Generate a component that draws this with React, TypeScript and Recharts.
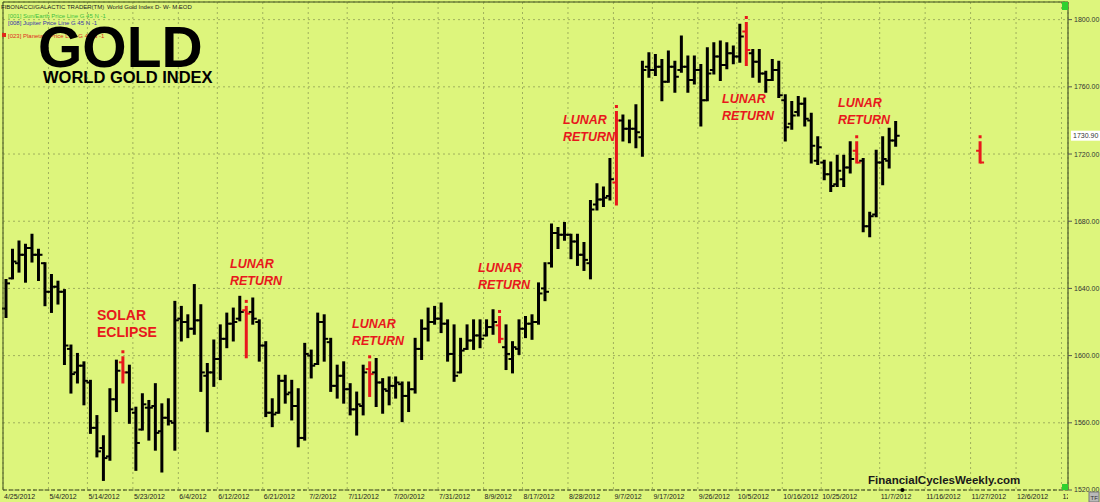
import React from "react";
import {
  ComposedChart,
  Bar,
  XAxis,
  YAxis,
  CartesianGrid,
  ReferenceLine,
  ReferenceDot,
} from "recharts";

// daily OHLC, world gold index, 4/25/2012 .. 11/9/2012 (session index = position in array)
const opens = [
  1628, 1646, 1655, 1660, 1664, 1660, 1655, 1638, 1641, 1638,
  1604, 1590, 1594, 1584, 1557, 1545, 1540, 1574, 1596, 1590,
  1566, 1556, 1569, 1570, 1555, 1563, 1560, 1622, 1620, 1616,
  1621, 1588, 1590, 1598, 1610, 1619, 1622, 1627, 1626, 1620,
  1606, 1566, 1566, 1585, 1578, 1570, 1551, 1600, 1595, 1620,
  1608, 1582, 1588, 1580, 1568, 1570, 1592, 1590, 1584, 1579,
  1582, 1583, 1576, 1580, 1604, 1616, 1620, 1622, 1619, 1601,
  1590, 1604, 1609, 1612, 1612, 1617, 1618, 1605, 1598, 1604,
  1616, 1619, 1620, 1640, 1655, 1673, 1672, 1672, 1668, 1660,
  1655, 1690, 1693, 1695, 1703, 1740, 1735, 1735, 1730, 1772,
  1770, 1772, 1763, 1772, 1770, 1772, 1764, 1770, 1752, 1770,
  1778, 1773, 1780, 1778, 1793, 1780, 1775, 1768, 1764, 1770,
  1752, 1738, 1745, 1750, 1740, 1716, 1715, 1708, 1702, 1705,
  1712, 1722, 1716, 1677, 1684, 1715, 1716, 1728,
];
const highs = [
  1645, 1663, 1668, 1666, 1672, 1663, 1655, 1648, 1644, 1639,
  1606, 1601, 1596, 1585, 1564, 1552, 1580, 1597, 1599, 1594,
  1569, 1577, 1573, 1583, 1571, 1574, 1632, 1629, 1624, 1642,
  1630, 1595, 1609, 1618, 1625, 1628, 1635, 1629, 1634, 1621,
  1608, 1574, 1588, 1588, 1585, 1580, 1607, 1603, 1625, 1624,
  1610, 1594, 1596, 1583, 1578, 1594, 1596, 1598, 1586, 1587,
  1587, 1584, 1584, 1610, 1621, 1628, 1629, 1631, 1621, 1618,
  1610, 1618, 1621, 1621, 1621, 1627, 1623, 1618, 1608, 1621,
  1623, 1624, 1643, 1655, 1678, 1676, 1679, 1672, 1672, 1667,
  1692, 1702, 1700, 1717, 1745, 1743, 1740, 1749, 1775, 1780,
  1779, 1776, 1781, 1775, 1790, 1778, 1778, 1773, 1783, 1786,
  1787, 1786, 1784, 1797, 1798, 1782, 1782, 1769, 1776, 1775,
  1755, 1751, 1754, 1753, 1744, 1730, 1716, 1715, 1719, 1719,
  1727, 1727, 1717, 1685, 1722, 1730, 1735, 1739,
];
const lows = [
  1623, 1646, 1650, 1644, 1656, 1645, 1630, 1626, 1631, 1595,
  1578, 1584, 1571, 1554, 1540, 1526, 1538, 1567, 1584, 1560,
  1532, 1556, 1550, 1544, 1531, 1559, 1544, 1609, 1611, 1613,
  1579, 1555, 1582, 1586, 1605, 1609, 1621, 1599, 1619, 1597,
  1564, 1558, 1566, 1572, 1562, 1546, 1550, 1587, 1595, 1597,
  1579, 1575, 1572, 1565, 1553, 1565, 1576, 1570, 1566, 1571,
  1575, 1561, 1567, 1578, 1598, 1609, 1619, 1614, 1597, 1585,
  1590, 1604, 1604, 1605, 1612, 1613, 1608, 1592, 1590, 1601,
  1611, 1610, 1619, 1633, 1653, 1664, 1669, 1658, 1654, 1651,
  1646, 1687, 1689, 1693, 1690, 1728, 1727, 1724, 1719, 1766,
  1767, 1752, 1763, 1757, 1769, 1757, 1762, 1737, 1752, 1768,
  1764, 1771, 1774, 1775, 1773, 1766, 1763, 1757, 1764, 1754,
  1728, 1735, 1743, 1737, 1715, 1714, 1705, 1698, 1701, 1701,
  1709, 1715, 1674, 1671, 1683, 1702, 1712, 1725,
];
const closes = [
  1643, 1656, 1660, 1664, 1660, 1660, 1638, 1641, 1638, 1606,
  1589, 1594, 1585, 1557, 1543, 1539, 1574, 1591, 1590, 1568,
  1548, 1571, 1569, 1554, 1563, 1561, 1621, 1620, 1616, 1621,
  1590, 1590, 1598, 1610, 1619, 1620, 1626, 1625, 1622, 1606,
  1566, 1565, 1585, 1577, 1570, 1551, 1601, 1594, 1620, 1610,
  1582, 1588, 1580, 1568, 1571, 1590, 1589, 1584, 1580, 1582,
  1584, 1576, 1580, 1604, 1616, 1620, 1622, 1619, 1601, 1588,
  1603, 1609, 1612, 1610, 1617, 1620, 1610, 1601, 1605, 1616,
  1619, 1620, 1637, 1638, 1673, 1672, 1672, 1668, 1660, 1657,
  1687, 1693, 1694, 1705, 1740, 1735, 1735, 1733, 1770, 1770,
  1772, 1763, 1772, 1766, 1772, 1764, 1770, 1752, 1768, 1778,
  1773, 1780, 1778, 1790, 1782, 1775, 1768, 1764, 1770, 1755,
  1736, 1743, 1750, 1741, 1725, 1724, 1708, 1701, 1710, 1712,
  1717, 1715, 1677, 1683, 1715, 1717, 1728, 1730.9,
];

// planetary (lunar return / eclipse) days, drawn in red
const eventBars = [18, 37, 56, 76, 94, 114, 131];
// projected event bar in the future
const projIndex = 150;
const projOpen = 1722;
const projHigh = 1727;
const projLow = 1715;
const projClose = 1715;

const labelBars = [0, 7, 13, 20, 27, 33, 40, 47, 53, 60, 67, 74, 80, 87, 94, 100, 107, 113, 120, 126, 135, 142, 149, 156, 163];
const labelDates = [
  "4/25/2012", "5/4/2012", "5/14/2012", "5/23/2012", "6/4/2012", "6/12/2012",
  "6/21/2012", "7/2/2012", "7/11/2012", "7/20/2012", "7/31/2012", "8/9/2012",
  "8/17/2012", "8/28/2012", "9/7/2012", "9/17/2012", "9/26/2012", "10/5/2012",
  "10/16/2012", "10/25/2012", "11/7/2012", "11/16/2012", "11/27/2012", "12/6/2012",
  "12/17/2012",
];
const priceTicks = [1520, 1560, 1600, 1640, 1680, 1720, 1760, 1800];
const lastPrice = 1730.9;
const todayIndex = 138;
const sessionCount = 164;

const BG = "#ddf57c";
const RED = "#e8181c";
const FONT = '"Liberation Sans", Arial, sans-serif';

type Row = { i: number; o?: number; h?: number; l?: number; c?: number; red?: boolean };

const rows: Row[] = Array.from({ length: sessionCount }, (_, i) => {
  if (i < closes.length)
    return { i, o: opens[i], h: highs[i], l: lows[i], c: closes[i], red: eventBars.includes(i) };
  if (i === projIndex) return { i, o: projOpen, h: projHigh, l: projLow, c: projClose, red: true };
  return { i };
});

function OhlcShape(props: any) {
  const { x, y, width, height, payload } = props;
  if (!payload || payload.h == null) return null;
  const cx = x + width / 2;
  const top = Math.min(y, y + height);
  const bottom = Math.max(y, y + height);
  const span = payload.h - payload.l || 1;
  const py = (v: number) => top + ((payload.h - v) / span) * (bottom - top);
  const color = payload.red ? RED : "#000";
  return (
    <g>
      <line x1={cx} x2={cx} y1={top - 1} y2={bottom + 1} stroke={color} strokeWidth={3} />
      <line x1={cx - 4} x2={cx} y1={py(payload.o)} y2={py(payload.o)} stroke={color} strokeWidth={2} />
      <line x1={cx} x2={cx + 4} y1={py(payload.c)} y2={py(payload.c)} stroke={color} strokeWidth={2} />
      {payload.red && <rect x={cx - 1.5} y={top - 7} width={3} height={3} fill={color} />}
    </g>
  );
}

function DateTick(props: any) {
  const { x, payload } = props;
  const k = labelBars.findIndex((b) => b - 0.5 === payload.value);
  return (
    <text x={x + 1} y={499} fontSize={7} fill="#222" textAnchor="start" clipPath="url(#xlabelClip)">
      {labelDates[k] ?? ""}
    </text>
  );
}

function PriceTag(props: any) {
  const vb = props.viewBox;
  if (!vb) return null;
  const lx = vb.x + vb.width + 3;
  return (
    <g>
      <rect x={lx} y={vb.y - 5} width={29} height={10} fill="#fff" />
      <text x={lx + 2} y={vb.y + 2.5} fontSize={7} fill="#333">
        {lastPrice.toFixed(2)}
      </text>
    </g>
  );
}

const lunar = [
  { x: 230, y: 268 },
  { x: 352, y: 328 },
  { x: 478, y: 272 },
  { x: 563, y: 124 },
  { x: 722, y: 103 },
  { x: 838, y: 107 },
];

export default function App() {
  return (
    <div
      style={{
        position: "absolute",
        left: 0,
        top: 0,
        width: 1100,
        height: 502,
        background: BG,
        overflow: "hidden",
        fontFamily: FONT,
      }}
    >
      <ComposedChart width={1100} height={502} data={rows} margin={{ top: 2, right: 0, bottom: 0, left: 3 }}>
        <defs>
          <clipPath id="xlabelClip">
            <rect x={0} y={0} width={1068} height={502} />
          </clipPath>
        </defs>
        <CartesianGrid stroke="#9fb05c" strokeDasharray="2 3" />
        <XAxis
          dataKey="i"
          type="number"
          domain={[-0.5, sessionCount - 0.5]}
          ticks={labelBars.map((b) => b - 0.5)}
          interval={0}
          height={12}
          tickLine={false}
          axisLine={{ stroke: "#2e3a18", strokeDasharray: "4 2" }}
          tick={<DateTick />}
        />
        <YAxis
          orientation="right"
          domain={[1520, 1810.5]}
          ticks={priceTicks}
          allowDataOverflow
          width={32}
          tickSize={4}
          tickLine={{ stroke: "#555" }}
          axisLine={{ stroke: "#2e3a18" }}
          tick={{ fontSize: 7, fill: "#333" }}
          tickFormatter={(v: number) => v.toFixed(2)}
        />
        <Bar
          dataKey={(d: Row) => (d.h == null ? null : [d.l, d.h])}
          barSize={4}
          shape={<OhlcShape />}
          isAnimationActive={false}
        />
        <ReferenceLine y={lastPrice} stroke="none" label={<PriceTag />} />
        <ReferenceDot x={todayIndex} y={1520} r={2} fill="#000" stroke="none" ifOverflow="visible" />
      </ComposedChart>

      <svg
        width={1100}
        height={502}
        style={{ position: "absolute", left: 0, top: 0, pointerEvents: "none" }}
        fontFamily={FONT}
      >
        {/* plot frame, left and top */}
        <line x1={3} y1={2} x2={3} y2={490} stroke="#3a4a1a" />
        <line x1={3} y1={2} x2={1068} y2={2} stroke="#3a4a1a" />
        <rect x={1062} y={2} width={6} height={8} fill="#2fd12f" />
        <rect x={1062} y={484} width={6} height={6} fill="#2fd12f" />
        <rect x={1089} y={492} width={10} height={10} fill="#b9b9b9" stroke="#777" />
        <text x={1090.5} y={500} fontSize={6} fill="#333">TF</text>

        {/* header */}
        <text x={1} y={9} fontSize={6} fill="#222">FIBONACCI/GALACTIC TRADER(TM)</text>
        <text x={107} y={9} fontSize={6} fill="#222">World Gold Index D- W- M EOD</text>
        <text x={8} y={18} fontSize={6} fill="#3fbf3f">[001] Sun/Earth Price Line G 45 N -1</text>
        <text x={8} y={24.5} fontSize={6} fill="#3535aa">[008] Jupiter Price Line G 45 N -1</text>
        <rect x={2} y={33} width={4} height={4} fill="#e02a1a" />
        <text x={8} y={38} fontSize={6} fill="#e02a1a">[023] Planetary Price Line G 45 N -1</text>
        <text x={38} y={67} fontSize={57} fontWeight="bold" fill="#000">GOLD</text>
        <text x={43} y={83} fontSize={16.5} fontWeight="bold" fill="#000">WORLD GOLD INDEX</text>

        {/* event notes */}
        <text x={97} y={320} fontSize={14} fontWeight="bold" fill={RED}>SOLAR</text>
        <text x={97} y={337} fontSize={14} fontWeight="bold" fill={RED}>ECLIPSE</text>
        {lunar.map((p, k) => (
          <g key={k} fontSize={12.5} fontWeight="bold" fontStyle="italic" fill={RED}>
            <text x={p.x} y={p.y}>LUNAR</text>
            <text x={p.x} y={p.y + 17}>RETURN</text>
          </g>
        ))}

        <text x={868} y={484} fontSize={11.5} fontWeight="bold" fill="#1a1a1a">FinancialCyclesWeekly.com</text>
      </svg>
    </div>
  );
}
